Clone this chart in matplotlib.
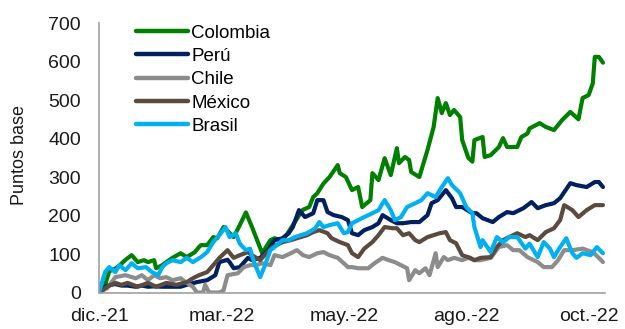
import matplotlib.pyplot as plt

plt.rcParams['font.family'] = ['Liberation Sans', 'DejaVu Sans']

# Spreads in basis points, indexed by trading day since early December 2021
col_d = [0, 3, 5, 8, 10, 13, 16, 19, 22, 24, 27, 28, 31, 33, 36, 40, 43, 47, 49, 50,
         53, 56, 58, 61, 63, 66, 69, 72, 75, 80, 84, 86, 89, 92, 95, 98, 100, 103, 105, 107,
         110, 113, 117, 118, 121, 124, 127, 129, 133, 134, 137, 140, 143, 146, 147, 150, 152, 153, 157, 161,
         164, 166, 168, 170, 172, 174, 177, 178, 181, 183, 184, 188, 189, 192, 196, 198, 200, 205, 207, 210,
         211, 216, 219, 223, 227, 231, 235, 237, 240, 242, 243, 245, 247]
col_v = [0, 20, 55, 62, 70, 85, 97, 79, 84, 79, 84, 63, 71, 79, 90, 102, 92, 105, 118, 123,
         123, 144, 141, 170, 160, 144, 175, 208, 170, 102, 136, 141, 136, 150, 175, 200, 215, 222, 248, 258,
         283, 300, 331, 310, 300, 266, 274, 222, 240, 310, 292, 349, 305, 375, 336, 352, 344, 313, 300, 370,
         430, 505, 466, 492, 461, 474, 456, 396, 350, 340, 396, 404, 352, 357, 378, 401, 378, 378, 404, 413,
         426, 440, 430, 422, 448, 469, 450, 505, 513, 543, 612, 612, 597]

per_d = [0, 4, 8, 11, 14, 18, 21, 24, 27, 31, 36, 40, 43, 48, 53, 57, 59, 63, 64, 66,
         69, 73, 75, 79, 83, 86, 90, 93, 95, 98, 101, 105, 107, 110, 112, 115, 119, 122, 124, 127,
         130, 134, 137, 139, 143, 146, 149, 153, 157, 161, 163, 166, 170, 173, 175, 178, 183, 185, 188, 193,
         196, 200, 203, 208, 212, 215, 219, 223, 226, 231, 234, 239, 243, 245, 247]
per_v = [0, 18, 22, 18, 18, 15, 18, 15, 16, 15, 15, 15, 20, 27, 32, 45, 79, 85, 79, 63,
         66, 90, 84, 90, 110, 136, 141, 154, 170, 214, 196, 206, 240, 240, 209, 201, 196, 188, 154, 149,
         162, 170, 180, 201, 188, 180, 180, 183, 183, 201, 232, 240, 266, 245, 222, 222, 206, 206, 193, 183,
         196, 209, 206, 219, 235, 219, 227, 232, 245, 284, 279, 274, 287, 287, 274]

chi_d = [0, 4, 8, 13, 18, 21, 24, 27, 30, 33, 36, 40, 43, 46, 48, 51, 52, 54, 59, 61,
         63, 68, 71, 74, 77, 80, 84, 86, 90, 94, 97, 100, 103, 107, 110, 113, 117, 120, 122, 124,
         127, 132, 135, 139, 142, 145, 148, 151, 152, 155, 157, 160, 162, 165, 166, 169, 171, 174, 178, 181,
         184, 187, 192, 196, 200, 203, 206, 210, 215, 218, 222, 225, 228, 232, 237, 242, 245, 247]
chi_v = [0, 11, 40, 45, 37, 45, 32, 45, 37, 40, 32, 37, 25, 15, 0, 0, 20, 0, 0, 5,
         45, 50, 66, 71, 71, 76, 71, 97, 92, 102, 110, 97, 92, 102, 105, 97, 90, 76, 66, 66,
         63, 63, 76, 90, 84, 79, 71, 63, 32, 58, 50, 63, 45, 102, 66, 92, 84, 90, 84, 90,
         84, 84, 90, 118, 123, 110, 110, 92, 79, 66, 66, 84, 110, 110, 114, 105, 90, 79]

mex_d = [0, 4, 8, 11, 14, 19, 24, 28, 33, 38, 43, 46, 49, 53, 56, 59, 63, 66, 69, 73,
         75, 79, 82, 85, 90, 94, 97, 102, 105, 108, 112, 114, 118, 122, 124, 127, 130, 134, 137, 140,
         144, 146, 149, 152, 155, 157, 161, 164, 167, 170, 172, 175, 178, 182, 184, 187, 192, 195, 198, 201,
         205, 209, 211, 215, 219, 223, 226, 228, 232, 235, 239, 243, 247]
mex_v = [0, 15, 25, 20, 25, 15, 25, 15, 25, 20, 27, 37, 45, 53, 71, 90, 110, 90, 97, 105,
         97, 84, 102, 118, 131, 136, 141, 149, 157, 162, 154, 141, 131, 123, 102, 92, 114, 131, 149, 170,
         167, 167, 149, 154, 136, 131, 144, 149, 154, 157, 136, 128, 97, 90, 84, 90, 92, 118, 136, 144,
         154, 144, 149, 136, 157, 167, 188, 227, 214, 196, 214, 227, 227]

bra_d = [0, 3, 5, 8, 10, 13, 16, 19, 23, 26, 29, 31, 33, 36, 40, 43, 46, 50, 53, 56,
         59, 62, 64, 67, 69, 72, 74, 76, 79, 81, 84, 86, 90, 93, 96, 99, 102, 106, 108, 110,
         113, 117, 120, 122, 124, 127, 130, 134, 137, 140, 143, 145, 148, 151, 155, 158, 161, 165, 168, 171,
         173, 177, 180, 183, 184, 187, 188, 192, 195, 198, 201, 205, 209, 211, 215, 218, 221, 223, 226, 229,
         232, 234, 237, 241, 244, 247]
bra_v = [0, 53, 66, 53, 71, 58, 76, 63, 66, 53, 45, 66, 76, 84, 79, 90, 79, 92, 105, 131,
         149, 170, 144, 154, 127, 110, 114, 79, 40, 66, 110, 118, 136, 136, 144, 149, 154, 167, 183, 170,
         175, 180, 154, 157, 180, 188, 196, 206, 214, 240, 214, 188, 196, 222, 232, 240, 258, 248, 274, 297,
         279, 258, 222, 206, 170, 118, 136, 105, 144, 130, 144, 144, 114, 127, 92, 131, 114, 92, 118, 141,
         102, 90, 102, 97, 118, 102]

series = [
    ("Colombia", col_d, col_v, "#008000"),
    ("Perú", per_d, per_v, "#002060"),
    ("Chile", chi_d, chi_v, "#8C8C8C"),
    ("México", mex_d, mex_v, "#5B4B3F"),
    ("Brasil", bra_d, bra_v, "#00B0F0"),
]

tick_pos = [0, 60, 120, 180, 240]
tick_lbl = ["dic.-21", "mar.-22", "may.-22", "ago.-22", "oct.-22"]

fig = plt.figure(figsize=(6.25, 3.29), dpi=100)
ax = fig.add_axes([0.1584, 0.1109, 0.8096, 0.8191])

for name, d, v, c in series:
    ax.plot(d, v, color=c, lw=3.0, label=name, solid_capstyle="round", solid_joinstyle="round")

ax.set_xlim(0, 248)
ax.set_ylim(0, 700)
ax.set_yticks(range(0, 701, 100))
ax.set_xticks(tick_pos)
ax.set_xticklabels(tick_lbl)
ax.tick_params(axis="both", length=0, labelsize=14, colors="#1a1a1a")
ax.tick_params(axis="y", pad=13)
ax.tick_params(axis="x", pad=11)

for s in ["top", "right"]:
    ax.spines[s].set_visible(False)
for s in ["left", "bottom"]:
    ax.spines[s].set_color("#A0A0A0")
    ax.spines[s].set_linewidth(1.2)

ax.set_ylabel("Puntos base", fontsize=13, color="#1a1a1a")
ax.yaxis.set_label_coords(-0.14, 0.51)

leg = ax.legend(loc="upper left", bbox_to_anchor=(0.058, 1.022), frameon=False,
                fontsize=13.5, handlelength=2.8, handletextpad=0.15,
                labelspacing=0.33, borderaxespad=0)
for line in leg.get_lines():
    line.set_linewidth(3.2)

fig.savefig("out.png", dpi=100)
